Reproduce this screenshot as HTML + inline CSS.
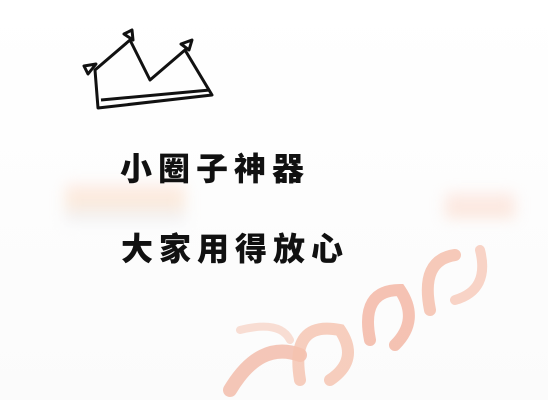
<!DOCTYPE html>
<html><head><meta charset="utf-8"><style>
html,body{margin:0;padding:0;width:548px;height:400px;overflow:hidden;background:#fff}
.t{position:absolute;font-family:"Liberation Sans","Noto Sans CJK SC",sans-serif;font-weight:900;color:#111;letter-spacing:6px;font-size:32px}
</style></head><body>
<div style="position:absolute;left:0;top:0;width:548px;height:400px;background:linear-gradient(#fff,#fbfbfb)"></div>
<div style="position:absolute;left:65px;top:183px;width:120px;height:40px;background:linear-gradient(#fde7e3,#fcdcc0 40%,#e8eff8);filter:blur(7px);opacity:.6"></div>
<div style="position:absolute;left:445px;top:192px;width:70px;height:26px;background:linear-gradient(#fde3dc,#fbd6c4);filter:blur(7px);opacity:.6"></div>
<svg width="548" height="400" style="position:absolute;left:0;top:0">
<g fill="none" stroke="#111" stroke-width="3" stroke-linejoin="round">
<path d="M95 70 L130 40 L150 80 L185 50 L212 95 L98 108 Z"/>
<path d="M101 100 L210 90"/>
<path d="M84 66 L96 64 L88 74 Z"/>
<path d="M124 34 L132 30 L133 40 Z"/>
<path d="M181 44 L192 40 L189 50 Z"/>
</g>
<g fill="none" stroke-linecap="round">
<path d="M230 390 Q260 340 300 355" stroke="#f3b9a6" stroke-width="14" opacity=".8"/>
<path d="M300 380 Q290 320 340 330 Q360 360 330 380" stroke="#f5c2ae" stroke-width="12" opacity=".8"/>
<path d="M370 340 Q360 290 400 290 Q420 320 395 345" stroke="#f2b3a0" stroke-width="12" opacity=".8"/>
<path d="M430 310 Q420 260 455 255" stroke="#f4bba8" stroke-width="12" opacity=".8"/>
<path d="M455 300 Q490 290 480 250" stroke="#f6c8b8" stroke-width="10" opacity=".8"/>
<path d="M240 330 Q280 320 290 340" stroke="#f7d0c2" stroke-width="8" opacity=".7"/>
</g>
</svg>
<div class="t" style="left:120px;top:144px">小圈子神器</div>
<div class="t" style="left:121px;top:224px">大家用得放心</div>
</body></html>
